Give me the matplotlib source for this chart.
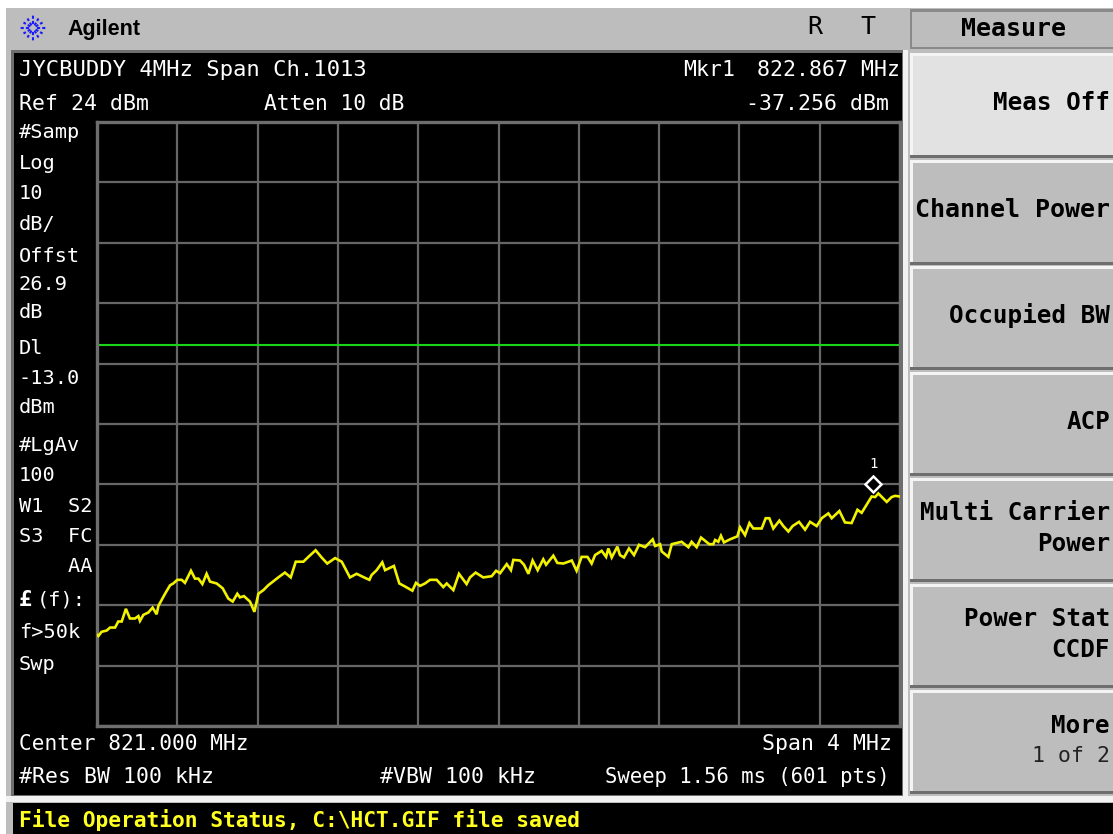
# spectrum analyzer screen, 4 MHz span around ch.1013
import numpy as np
import matplotlib
matplotlib.use("Agg")
import matplotlib.pyplot as plt
from matplotlib.patches import Rectangle

# trace, offset from start freq in MHz and level in dBm
freq_offset = [0.000, 0.007, 0.023, 0.048, 0.065, 0.090, 0.106, 0.123, 0.144, 0.164, 0.189, 0.206, 0.214, 0.231,
               0.256, 0.277, 0.297, 0.306, 0.339, 0.364, 0.380, 0.400, 0.422, 0.438, 0.468, 0.488, 0.505, 0.525,
               0.546, 0.563, 0.596, 0.626, 0.654, 0.676, 0.699, 0.712, 0.732, 0.762, 0.784, 0.804, 0.829, 0.853,
               0.903, 0.936, 0.965, 0.990, 1.028, 1.053, 1.089, 1.119, 1.147, 1.186, 1.219, 1.260, 1.293, 1.343,
               1.357, 1.368, 1.393, 1.421, 1.435, 1.479, 1.506, 1.534, 1.571, 1.589, 1.609, 1.634, 1.659, 1.692,
               1.725, 1.742, 1.775, 1.803, 1.841, 1.858, 1.886, 1.924, 1.966, 1.988,
               2.008, 2.041, 2.062, 2.074, 2.107, 2.127, 2.149, 2.170, 2.195, 2.223, 2.237, 2.273, 2.293, 2.323,
               2.365, 2.389, 2.414, 2.443, 2.464, 2.481, 2.514, 2.536, 2.547, 2.564, 2.592, 2.605, 2.625, 2.650,
               2.675, 2.700, 2.730, 2.768, 2.780, 2.805, 2.813, 2.846, 2.863, 2.912, 2.946, 2.962, 2.987, 3.009,
               3.050, 3.070, 3.079, 3.095, 3.108, 3.123, 3.153, 3.190, 3.203, 3.228, 3.250, 3.269, 3.311, 3.331,
               3.349, 3.369, 3.399, 3.419, 3.444, 3.465, 3.497, 3.527, 3.552, 3.585, 3.610, 3.643, 3.660, 3.698,
               3.726, 3.759, 3.788, 3.809, 3.859, 3.876, 3.892, 3.934, 3.958, 3.975, 4.000]
level_dbm = [-60.9, -61.1, -60.4, -60.2, -59.7, -59.7, -58.7, -58.7, -56.6, -58.2, -58.2, -57.8, -58.6, -57.6,
             -57.2, -56.4, -57.5, -56.1, -54.1, -52.7, -52.4, -51.8, -51.8, -52.3, -50.3, -51.6, -51.6, -52.5,
             -50.8, -52.1, -52.4, -53.2, -54.9, -55.4, -54.1, -54.7, -54.5, -55.4, -57.1, -54.1, -53.5, -52.7,
             -51.4, -50.6, -51.4, -48.8, -48.8, -48.0, -46.9, -48.1, -49.1, -48.2, -48.8, -51.4, -50.8, -51.6,
             -51.8, -51.0, -50.2, -48.9, -50.2, -49.5, -52.4, -52.9, -53.6, -52.3, -52.8, -52.4, -51.8, -51.8,
             -53.0, -52.4, -53.5, -50.8, -52.5, -51.4, -50.6, -51.4, -51.2, -50.3,
             -50.7, -49.2, -50.2, -48.5, -48.6, -49.3, -50.8, -48.6, -50.2, -48.4, -49.3, -47.8, -49.0, -49.1,
             -48.6, -50.3, -48.0, -48.0, -49.1, -47.7, -47.0, -48.0, -46.6, -48.1, -46.3, -47.7, -48.1, -46.6,
             -47.7, -46.0, -46.4, -45.1, -46.2, -45.9, -47.1, -48.0, -45.9, -45.5, -46.4, -45.5, -46.4, -44.8,
             -45.9, -45.9, -45.2, -45.5, -44.5, -45.6, -45.1, -44.6, -43.1, -44.4, -42.4, -43.3, -43.3, -41.6,
             -41.6, -43.3, -42.0, -42.9, -43.8, -42.9, -42.2, -43.5, -42.2, -42.9, -41.6, -40.8, -41.6, -40.4,
             -42.3, -42.4, -40.2, -40.7, -38.0, -38.1, -37.5, -38.9, -38.1, -37.9, -38.0]

start_mhz = 819.0
span_mhz = 4.0
ref_dbm = 24
db_per_div = 10
display_line = -13.0
marker_mhz = 822.867
marker_drawn_dbm = -36.0

left_labels = ["#Samp", "Log", "10", "dB/", "Offst", "26.9", "dB", "Dl", "-13.0", "dBm", "#LgAv", "100",
               "W1  S2", "S3  FC", "    AA", "(f):", "f>50k", "Swp"]
left_label_y = [132, 163, 193, 224, 256, 285, 313, 348, 378, 407, 445, 475, 506, 537, 567, 600, 632, 664]
left_label_x = [19, 19, 19, 19, 19, 19, 19, 19, 19, 19, 19, 19, 19, 19, 19, 37, 19, 19]

softkeys = ["Meas Off", "Channel Power", "Occupied BW", "ACP", "Multi Carrier\nPower",
            "Power Stat\nCCDF", "More"]
softkey_top = [53, 160, 266, 372, 478, 584, 690]
softkey_bottom = [155, 262, 367, 473, 579, 685, 791]

W, H = 1113, 834
MONO = "DejaVu Sans Mono"
fig = plt.figure(figsize=(W / 100, H / 100), dpi=100, facecolor="white")

# whole screen in pixel units for the instrument frame and texts
bg = fig.add_axes([0, 0, 1, 1])
bg.set_xlim(0, W)
bg.set_ylim(H, 0)
bg.axis("off")


def box(x0, y0, x1, y1, color, z=1):
    bg.add_patch(Rectangle((x0, y0), x1 - x0, y1 - y0, facecolor=color, edgecolor="none", zorder=z))


def screen_text(x, y, s, size=15.5, color="white", ha="left", weight="normal", family=MONO):
    bg.text(x, y, s, fontsize=size, color=color, ha=ha, va="center", weight=weight, family=family, zorder=5)


box(6, 8, 1113, 834, "#bdbdbd")
box(11, 50, 905, 797, "#6e6e6e")
box(14, 53, 902, 795, "black", 2)
box(903, 50, 908, 797, "#f2f2f2")
box(6, 796, 1113, 802, "#f2f2f2")
box(13, 803, 1113, 834, "black", 2)

# softkey panel
box(910, 9, 1113, 49, "#8a8a8a")
box(912, 12, 1113, 47, "#bdbdbd", 2)
for i in range(len(softkeys)):
    y0, y1 = softkey_top[i], softkey_bottom[i]
    box(910, y0, 1113, y1 + 3, "#6e6e6e", 2)
    box(910, y0, 1113, y1, "#f4f4f4", 2)
    box(913, y0 + 3, 1113, y1, "#e2e2e2" if i == 0 else "#bdbdbd", 3)
    txt = softkeys[i]
    lines = txt.split("\n")
    if len(lines) == 2:
        screen_text(1110, y0 + 35, lines[0], 17.5, "black", "right", "bold")
        screen_text(1110, y0 + 66, lines[1], 17.5, "black", "right", "bold")
    elif txt == "More":
        screen_text(1110, y0 + 36, txt, 17.5, "black", "right", "bold")
        screen_text(1110, y0 + 66, "1 of 2", 15.5, "#222222", "right")
    else:
        screen_text(1110, (y0 + y1) / 2 - 1, txt, 17.5 if i != 1 else 18, "black", "right", "bold")
screen_text(1013, 29, "Measure", 18, "black", "center", "bold")

# header
screen_text(67, 29, "Agilent", 15.5, "black", "left", "bold", "Liberation Sans")
screen_text(815, 27, "R", 18, "black", "center")
screen_text(868, 27, "T", 18, "black", "center")
for a in np.arange(0, 360, 30):
    r0, r1 = (4, 13) if a % 90 == 0 else (3, 11)
    bg.plot([33 + r0 * np.cos(np.radians(a)), 33 + r1 * np.cos(np.radians(a))],
            [28 + r0 * np.sin(np.radians(a)), 28 + r1 * np.sin(np.radians(a))],
            color="#1a1aff", lw=1.5, ls=(0, (1.5, 1)), zorder=5)

# annotations round the graticule
screen_text(19, 70, "JYCBUDDY 4MHz Span Ch.1013", 16)
screen_text(19, 104, "Ref 24 dBm")
screen_text(264, 104, "Atten 10 dB", 15.3)
screen_text(683, 70, "Mkr1")
screen_text(900, 70, "822.867 MHz", ha="right")
screen_text(889, 104, "-37.256 dBm", ha="right")
for s, x, y in zip(left_labels, left_label_x, left_label_y):
    screen_text(x, y, s, 14.6)
screen_text(19, 600, "£", 16, weight="bold")
screen_text(19, 744, "Center 821.000 MHz", 15.2)
screen_text(892, 744, "Span 4 MHz", ha="right")
screen_text(19, 777, "#Res BW 100 kHz")
screen_text(380, 777, "#VBW 100 kHz")
screen_text(890, 777, "Sweep 1.56 ms (601 pts)", 14.9, ha="right")
screen_text(19, 820, "File Operation Status, C:\\HCT.GIF file saved", 15.3, "#ffff20", weight="bold")

# graticule and trace
px0, px1, py0, py1 = 97, 900, 122, 726
ax = fig.add_axes([px0 / W, 1 - py1 / H, (px1 - px0) / W, (py1 - py0) / H], zorder=3)
ax.set_facecolor("black")
freq = start_mhz + np.array(freq_offset)
ax.set_xlim(start_mhz, start_mhz + span_mhz)
ax.set_ylim(ref_dbm - 10 * db_per_div, ref_dbm)
ax.set_xticks(np.linspace(start_mhz, start_mhz + span_mhz, 11))
ax.set_yticks(np.arange(ref_dbm - 10 * db_per_div, ref_dbm + 1, db_per_div))
ax.grid(True, color="#666666", lw=1.6, zorder=1)
ax.tick_params(length=0, labelbottom=False, labelleft=False)
ax.set_axisbelow(True)
for sp in ax.spines.values():
    sp.set_color("#6e6e6e")
    sp.set_linewidth(2.4)
ax.axhline(display_line, color="#19d419", lw=1.5, zorder=2)
ax.plot(freq, level_dbm, color="#f2f200", lw=1.9, zorder=3, solid_joinstyle="miter")
ax.plot([marker_mhz], [marker_drawn_dbm], marker="D", ms=8.5, mfc="black", mec="white", mew=1.8, zorder=4)
ax.annotate("1", (marker_mhz, marker_drawn_dbm), xytext=(0, 14.5), textcoords="offset points", color="white",
            fontsize=10, ha="center", va="center", family=MONO, zorder=4)

fig.savefig("out.png", dpi=100, facecolor="white")
